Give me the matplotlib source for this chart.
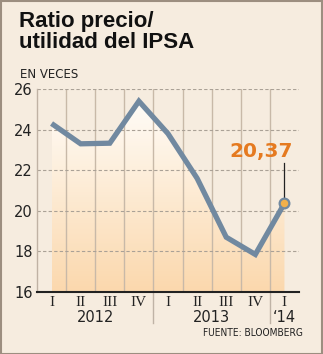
import numpy as np
import matplotlib.pyplot as plt
from matplotlib.colors import LinearSegmentedColormap
from matplotlib.patches import Polygon, Rectangle

quarters = ['I', 'II', 'III', 'IV', 'I', 'II', 'III', 'IV', 'I']
years = ['2012', '2013', '\u201814']
year_pos = [1.5, 5.5, 8]
pe_ratio = [24.3, 23.3, 23.33, 25.4, 23.8, 21.6, 18.7, 17.85, 20.37]
y_ticks = [16, 18, 20, 22, 24, 26]

bg = '#f6ecdf'
line_col = '#7189a0'
orange = '#e57a20'

W, H = 323, 354
fig = plt.figure(figsize=(W / 100, H / 100), dpi=100, facecolor=bg)
fig.patches.append(Rectangle((0.5 / W, 0.5 / H), 1 - 1.5 / W, 1 - 1.5 / H,
                             transform=fig.transFigure, fill=False,
                             edgecolor='#9c8e80', lw=1.5))

ax = fig.add_axes([37 / W, 62 / H, 262 / W, 203 / H])
ax.set_facecolor(bg)
ax.set_xlim(-0.5, 8.5)
ax.set_ylim(16, 26)

x = np.arange(len(pe_ratio))

# gradient area under the line
cmap = LinearSegmentedColormap.from_list('fade', ['#fbd8ad', '#fffdf9'])
grad = np.linspace(0, 1, 256).reshape(-1, 1)
img = ax.imshow(grad, cmap=cmap, aspect='auto', origin='lower',
                extent=[0, 8, 16, 25.6], zorder=1)
clip = Polygon(list(zip(x, pe_ratio)) + [(8, 16), (0, 16)],
               closed=True, transform=ax.transData)
img.set_clip_path(clip)

# grid
for g in np.arange(0.5, 8, 1):
    ax.axvline(g, color='#c8b9a8', lw=1, zorder=2)
for t in y_ticks[1:]:
    ax.axhline(t, color='#aaa196', lw=0.8, ls=(0, (3, 2)), zorder=2)

ax.plot(x, pe_ratio, color=line_col, lw=3.8, solid_capstyle='butt',
        solid_joinstyle='miter', zorder=3)
ax.plot(x[-1], pe_ratio[-1], 'o', ms=7, mfc='#f1b04c', mec=line_col, mew=1.6,
        zorder=4)
ax.plot([x[-1], x[-1]], [pe_ratio[-1] + 0.3, 22.35], color='#222222', lw=0.9,
        zorder=3)
ax.text(x[-1] - 0.8, 22.45, '20,37', color=orange, fontsize=14.5,
        fontweight='bold', ha='center', va='bottom', zorder=5)

for s in ['top', 'right']:
    ax.spines[s].set_visible(False)
ax.spines['left'].set_color('#c0b2a4')
ax.spines['left'].set_linewidth(1)
ax.spines['bottom'].set_color('#222222')
ax.spines['bottom'].set_linewidth(1.5)
ax.spines['bottom'].set_zorder(5)

ax.set_yticks(y_ticks)
ax.set_yticklabels([str(t) for t in y_ticks], fontsize=10.5, color='#222222')
ax.tick_params(axis='y', length=0, pad=3)
ax.set_xticks(x)
ax.set_xticklabels(quarters, fontsize=11, family='Liberation Serif',
                   color='#222222')
ax.tick_params(axis='x', length=0, pad=3)

for xp, yr in zip(year_pos, years):
    ax.text(xp, -0.125, yr, transform=ax.get_xaxis_transform(),
            ha='center', va='center', fontsize=10.5, color='#222222')
for sep in [3.5, 7.5]:
    ax.plot([sep, sep], [0, -0.155], transform=ax.get_xaxis_transform(),
            color='#bfb3a6', lw=1, clip_on=False)

fig.text(19 / W, 1 - 11 / H, 'Ratio precio/\nutilidad del IPSA', fontsize=16,
         fontweight='bold', family='Liberation Sans', va='top', ha='left',
         linespacing=1.02, color='#111111')
fig.text(20 / W, 1 - 74 / H, 'EN VECES', fontsize=8.5, va='center',
         ha='left', color='#222222')
fig.text(303 / W, 1 - 333 / H, 'FUENTE: BLOOMBERG', fontsize=7.3,
         fontstretch='condensed', va='center', ha='right', color='#222222')

fig.savefig('out.png', dpi=100, facecolor=bg)
